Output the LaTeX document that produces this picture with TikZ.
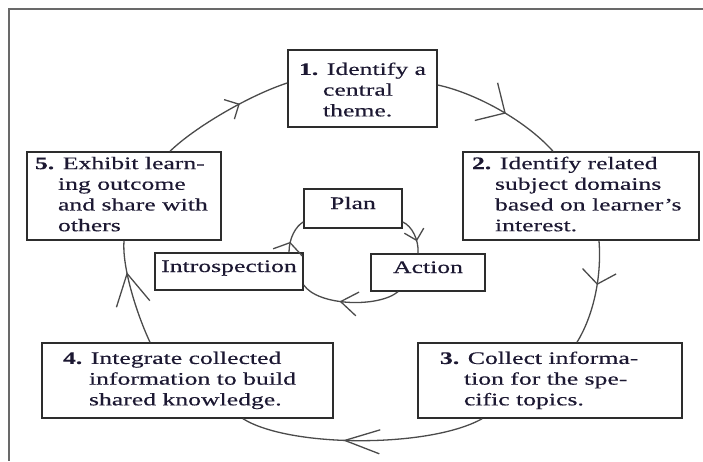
\documentclass[tikz,border=0pt]{standalone}
\usepackage{fontspec}
\newfontfamily\diagfont[FakeStretch=1.46,FakeBold=0.35]{Liberation Serif}
\usetikzlibrary{decorations.markings,arrows.meta}
\definecolor{txt}{RGB}{28,24,50}
\definecolor{edgec}{RGB}{45,45,45}
\definecolor{linec}{RGB}{75,75,75}
\definecolor{framec}{RGB}{105,105,105}
\begin{document}
\begin{tikzpicture}[x=1pt,y=-1pt,
  font=\diagfont\fontsize{17.6}{20.7}\selectfont, text=txt,
  box/.style={draw=edgec,line width=1.5pt,inner sep=0pt,fill=white},
  ibox/.style={box,text height=10pt,text depth=9pt},
  conn/.style={draw=linec,line width=1.3pt},
  vmark/.style n args={3}{postaction={decorate,decoration={markings,
     mark=at position #1 with {\arrow[linec,line width=1.3pt]{Straight Barb[length=#2pt,width=#3pt]}}}}}]
\useasboundingbox (0,0) rectangle (703,461);
\fill[white] (0,0) rectangle (703,461);
\draw[draw=framec,line width=1.5pt] (703,9) -- (9,9) -- (9,461);

% outer boxes
\node[box,minimum width=149pt,minimum height=77pt] (b1) at (362.5,88.5)
 {\makebox[149pt][l]{\hspace{11pt}\begin{tabular}{@{}l@{}}\rule{0pt}{20.5pt}\textbf{1.} Identify a\\\hspace*{24pt}central\\\hspace*{24pt}theme.\end{tabular}}};
\node[box,minimum width=236pt,minimum height=88pt] (b2) at (581,196)
 {\makebox[236pt][l]{\hspace{9pt}\begin{tabular}{@{}l@{}}\textbf{2.} Identify related\\\hspace*{23pt}subject domains\\\hspace*{23pt}based on learner’s\\\hspace*{23pt}interest.\end{tabular}}};
\node[box,minimum width=264pt,minimum height=75pt] (b3) at (550,380.5)
 {\makebox[264pt][l]{\hspace{22pt}\begin{tabular}{@{}l@{}}\textbf{3.} Collect informa-\\\hspace*{24pt}tion for the spe-\\\hspace*{24pt}cific topics.\end{tabular}}};
\node[box,minimum width=291pt,minimum height=75pt] (b4) at (187.5,380.5)
 {\makebox[291pt][l]{\hspace{21pt}\begin{tabular}{@{}l@{}}\textbf{4.} Integrate collected\\\hspace*{26pt}information to build\\\hspace*{26pt}shared knowledge.\end{tabular}}};
\node[box,minimum width=194pt,minimum height=88pt] (b5) at (124,196)
 {\makebox[194pt][l]{\hspace{8pt}\begin{tabular}{@{}l@{}}\textbf{5.} Exhibit learn-\\\hspace*{23pt}ing outcome\\\hspace*{23pt}and share with\\\hspace*{23pt}others\end{tabular}}};

% inner boxes
\node[ibox,minimum width=98pt,minimum height=39pt] (plan) at (353,208.5) {Plan};
\node[ibox,minimum width=148pt,minimum height=37pt] (intro) at (229,271.5) {Introspection};
\node[ibox,minimum width=114pt,minimum height=37pt] (action) at (428,272.5) {Action};

% outer cycle
\draw[conn,vmark={0.55}{22}{44}] ([yshift=3.5pt]b1.east) .. controls (475,93) and (525,120) .. ([xshift=-28pt]b2.north);
\draw[conn,vmark={0.42}{13}{34}] ([xshift=18pt]b2.south) .. controls (602,280) and (592,318) .. ([xshift=27pt]b3.north);
\draw[conn,vmark={0.58}{35}{24}] ([xshift=-68pt]b3.south) .. controls (430,448) and (290,448) .. ([xshift=55.5pt]b4.south);
\draw[conn,vmark={0.7}{31}{34}] ([xshift=-37.5pt]b4.north) .. controls (135,310) and (122,265) .. (b5.south);
\draw[conn,vmark={0.62}{11}{22}] ([xshift=46pt]b5.north) .. controls (195,127) and (250,95) .. ([yshift=5.5pt]b1.west);

% inner cycle
\draw[conn,vmark={0.67}{10}{20}] ([yshift=-13.5pt]plan.east) .. controls (412,226) and (419,240) .. ([xshift=-10pt]action.north);
\draw[conn,vmark={0.6}{17}{24}] ([xshift=-30pt]action.south) .. controls (378,308) and (318,306) .. ([yshift=-13.5pt]intro.east);
\draw[conn,vmark={0.3}{10}{30}] ([xshift=60pt]intro.north) .. controls (289,238) and (296,226) .. ([yshift=-13.5pt]plan.west);
\end{tikzpicture}
\end{document}
